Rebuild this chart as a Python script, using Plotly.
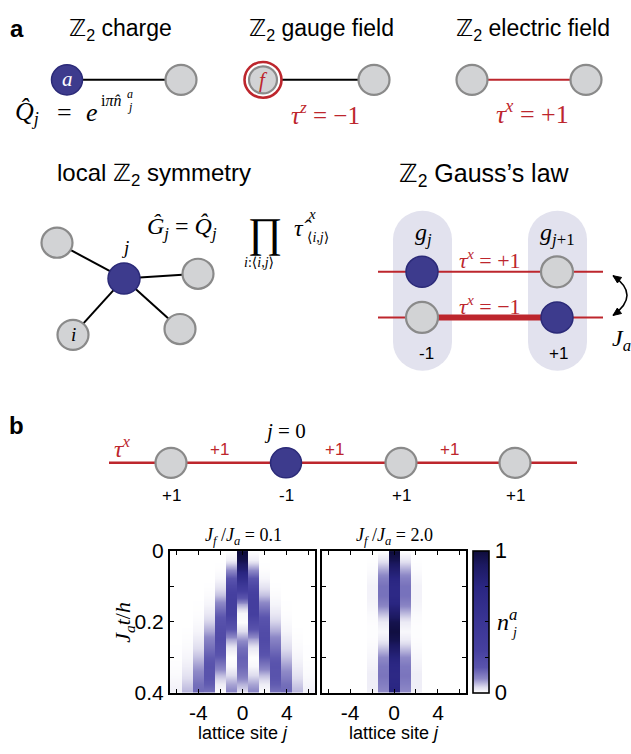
import math
import plotly.graph_objects as go

W, H = 631, 754

# ---------------- data ----------------
sites = [-6, -5, -4, -3, -2, -1, 0, 1, 2, 3, 4, 5, 6]
times = [0.0, 0.025, 0.05, 0.075, 0.1, 0.125, 0.15, 0.175, 0.2,
         0.225, 0.25, 0.275, 0.3, 0.325, 0.35, 0.375, 0.4]

# n_j^a(t) for J_f/J_a = 0.1 (rows: time, columns: sites -6..6)
density_jf_0p1 = [
    [0, 0, 0, 0, 0, 0, 1.00, 0, 0, 0, 0, 0, 0],
    [0, 0, 0, 0, 0, 0.02, 0.95, 0.02, 0, 0, 0, 0, 0],
    [0, 0, 0, 0, 0.002, 0.09, 0.82, 0.09, 0.002, 0, 0, 0, 0],
    [0, 0, 0, 0, 0.01, 0.18, 0.62, 0.18, 0.01, 0, 0, 0, 0],
    [0, 0, 0, 0.001, 0.03, 0.26, 0.41, 0.26, 0.03, 0.001, 0, 0, 0],
    [0, 0, 0, 0.005, 0.06, 0.32, 0.22, 0.32, 0.06, 0.005, 0, 0, 0],
    [0, 0, 0.001, 0.012, 0.11, 0.34, 0.08, 0.34, 0.11, 0.012, 0.001, 0, 0],
    [0, 0, 0.002, 0.026, 0.16, 0.31, 0.01, 0.31, 0.16, 0.026, 0.002, 0, 0],
    [0, 0, 0.006, 0.048, 0.20, 0.24, 0.003, 0.24, 0.20, 0.048, 0.006, 0, 0],
    [0, 0.001, 0.012, 0.077, 0.23, 0.16, 0.04, 0.16, 0.23, 0.077, 0.012, 0.001, 0],
    [0, 0.003, 0.023, 0.11, 0.24, 0.08, 0.09, 0.08, 0.24, 0.11, 0.023, 0.003, 0],
    [0.001, 0.006, 0.039, 0.14, 0.21, 0.024, 0.14, 0.024, 0.21, 0.14, 0.039, 0.006, 0.001],
    [0.001, 0.011, 0.06, 0.17, 0.17, 0.001, 0.16, 0.001, 0.17, 0.17, 0.06, 0.011, 0.001],
    [0.003, 0.02, 0.086, 0.19, 0.12, 0.009, 0.15, 0.009, 0.12, 0.19, 0.086, 0.02, 0.003],
    [0.006, 0.033, 0.11, 0.185, 0.063, 0.04, 0.12, 0.04, 0.063, 0.185, 0.11, 0.033, 0.006],
    [0.012, 0.052, 0.14, 0.167, 0.021, 0.08, 0.07, 0.08, 0.021, 0.167, 0.14, 0.052, 0.012],
    [0.018, 0.07, 0.15, 0.13, 0.001, 0.11, 0.03, 0.11, 0.001, 0.13, 0.15, 0.07, 0.018],
]

# n_j^a(t) for J_f/J_a = 2.0
density_jf_2p0 = [
    [0, 0, 0, 0, 0, 0, 1.00, 0, 0, 0, 0, 0, 0],
    [0, 0, 0, 0, 0.001, 0.03, 0.94, 0.03, 0.001, 0, 0, 0, 0],
    [0, 0, 0, 0, 0.004, 0.075, 0.84, 0.075, 0.004, 0, 0, 0, 0],
    [0, 0, 0, 0, 0.01, 0.115, 0.75, 0.115, 0.01, 0, 0, 0, 0],
    [0, 0, 0, 0, 0.015, 0.135, 0.70, 0.135, 0.015, 0, 0, 0, 0],
    [0, 0, 0, 0, 0.015, 0.135, 0.70, 0.135, 0.015, 0, 0, 0, 0],
    [0, 0, 0, 0, 0.012, 0.11, 0.76, 0.11, 0.012, 0, 0, 0, 0],
    [0, 0, 0, 0, 0.006, 0.065, 0.86, 0.065, 0.006, 0, 0, 0, 0],
    [0, 0, 0, 0, 0.003, 0.022, 0.95, 0.022, 0.003, 0, 0, 0, 0],
    [0, 0, 0, 0, 0.002, 0.008, 0.98, 0.008, 0.002, 0, 0, 0, 0],
    [0, 0, 0, 0, 0.003, 0.022, 0.95, 0.022, 0.003, 0, 0, 0, 0],
    [0, 0, 0, 0, 0.006, 0.06, 0.87, 0.06, 0.006, 0, 0, 0, 0],
    [0, 0, 0, 0, 0.01, 0.10, 0.78, 0.10, 0.01, 0, 0, 0, 0],
    [0, 0, 0, 0, 0.015, 0.125, 0.72, 0.125, 0.015, 0, 0, 0, 0],
    [0, 0, 0, 0, 0.02, 0.13, 0.70, 0.13, 0.02, 0, 0, 0, 0],
    [0, 0, 0, 0, 0.02, 0.115, 0.73, 0.115, 0.02, 0, 0, 0, 0],
    [0, 0, 0, 0, 0.015, 0.095, 0.78, 0.095, 0.015, 0, 0, 0, 0],
]

site_ticks = [-6, -4, -2, 0, 2, 4, 6]
site_ticklabels = ['', '-4', '', '0', '', '4', '']
time_ticks = [0, 0.1, 0.2, 0.3, 0.4]
time_ticklabels = ['0', '', '0.2', '', '0.4']
cbar_ticks = [0, 0.25, 0.5, 0.75, 1]
cbar_ticklabels = ['0', '', '', '', '1']

# chain in panel b
chain_charges = ['+1', '-1', '+1', '+1']
chain_filled = [False, True, False, False]
chain_links = ['+1', '+1', '+1']

# ---------------- styling ----------------
SANS = 'Liberation Sans, Arial, DejaVu Sans, sans-serif'
SERIF = 'Liberation Serif, Times New Roman, DejaVu Serif, serif'
NAVY = '#3d3b8d'
NAVY_EDGE = '#2b2a78'
GRAY = '#d2d3d5'
GRAY_EDGE = '#8a8a8a'
RED = '#bd262d'
LAV = '#e2e2ee'
CS = [[0.0, '#ffffff'], [0.04, '#dedcee'], [0.1, '#8e89c7'], [0.18, '#5a54ad'],
      [0.3, '#4640a0'], [0.5, '#3a3594'], [0.75, '#2a2682'], [0.9, '#1c1961'],
      [1.0, '#0e0c3a']]


def px(x):
    return x / W


def py(y):
    return 1 - y / H


shapes = []
annotations = []


def seg(x0, y0, x1, y1, color='black', width=2):
    shapes.append(dict(type='line', xref='paper', yref='paper',
                       x0=px(x0), y0=py(y0), x1=px(x1), y1=py(y1),
                       line=dict(color=color, width=width)))


def circ(cx, cy, r, fill, edge, lw=2):
    shapes.append(dict(type='circle', xref='paper', yref='paper',
                       x0=px(cx - r), x1=px(cx + r), y0=py(cy + r), y1=py(cy - r),
                       fillcolor=fill, line=dict(color=edge, width=lw)))


def node(cx, cy, filled, r=15.5):
    if filled:
        circ(cx, cy, r, NAVY, NAVY_EDGE, 1.5)
    else:
        circ(cx, cy, r, GRAY, GRAY_EDGE, 2.2)


def rect(x0, y0, x1, y1, fill):
    shapes.append(dict(type='rect', xref='paper', yref='paper',
                       x0=px(x0), x1=px(x1), y0=py(y1), y1=py(y0),
                       fillcolor=fill, line=dict(width=0)))


def pill(x0, y0, x1, y1, fill):
    r = (x1 - x0) / 2
    rect(x0, y0 + r, x1, y1 - r, fill)
    shapes.append(dict(type='circle', xref='paper', yref='paper',
                       x0=px(x0), x1=px(x1), y0=py(y0 + 2 * r), y1=py(y0),
                       fillcolor=fill, line=dict(width=0)))
    shapes.append(dict(type='circle', xref='paper', yref='paper',
                       x0=px(x0), x1=px(x1), y0=py(y1), y1=py(y1 - 2 * r),
                       fillcolor=fill, line=dict(width=0)))


def txt(x, y, text, size, color='black', family=SANS, xanchor='center',
        yanchor='middle', angle=0):
    annotations.append(dict(x=px(x), y=py(y), xref='paper', yref='paper',
                            text=text, showarrow=False, textangle=angle,
                            font=dict(size=size, color=color, family=family),
                            xanchor=xanchor, yanchor=yanchor))


def arrowhead(tipx, tipy, dx, dy, length=8, half=3.5, color='black'):
    n = math.hypot(dx, dy)
    ux, uy = dx / n, dy / n
    bx, by = tipx - ux * length, tipy - uy * length
    p1 = (bx - uy * half, by + ux * half)
    p2 = (bx + uy * half, by - ux * half)
    path = 'M {} {} L {} {} L {} {} Z'.format(px(tipx), py(tipy), px(p1[0]), py(p1[1]),
                                               px(p2[0]), py(p2[1]))
    shapes.append(dict(type='path', xref='paper', yref='paper', path=path,
                       fillcolor=color, line=dict(color=color, width=1)))


# ---------------- panel a : top row ----------------
txt(17, 17, '<b>a</b>', 24)
txt(120, 18, 'ℤ<sub>2</sub> charge', 23)
txt(321, 18, 'ℤ<sub>2</sub> gauge field', 23)
txt(533, 18, 'ℤ<sub>2</sub> electric field', 23)

ROW = 70
seg(67, ROW, 181, ROW, 'black', 2)
node(67, ROW, True)
node(181, ROW, False)
txt(67, ROW - 1, '<i>a</i>', 21, 'white', SERIF)

seg(263, ROW, 374, ROW, 'black', 2)
circ(263, ROW, 18.5, 'white', RED, 2.6)
node(263, ROW, False, 14)
node(374, ROW, False)
txt(263, ROW, '<i>f</i>', 21, RED, SERIF)

seg(472, ROW, 586, ROW, RED, 2)
node(472, ROW, False)
node(586, ROW, False)

LAB = 104
txt(13, LAB, '<i>Q̂</i><sub><i>j</i></sub>', 26, 'black', SERIF, xanchor='left')
txt(64, LAB, '=', 26, 'black', SERIF)
txt(92, LAB, '<i>e</i>', 26, 'black', SERIF)
txt(99, LAB - 13, 'i<i>π</i><i>n̂</i>', 16, 'black', SERIF, xanchor='left')
txt(125, LAB - 19, '<i>a</i>', 12, 'black', SERIF, xanchor='left')
txt(125, LAB - 6, '<i>j</i>', 12, 'black', SERIF, xanchor='left')
txt(325, LAB, '<i>τ</i><sup><i>z</i></sup> = −1', 25, RED, SERIF)
txt(532, LAB, '<i>τ</i><sup><i>x</i></sup> = +1', 26, RED, SERIF)

# ---------------- panel a : local symmetry ----------------
txt(154, 168, 'local ℤ<sub>2</sub> symmetry', 24)
center = (124, 275)
neighbors = [(57, 238), (198, 270), (73, 333), (180, 327)]
for (nx, ny) in neighbors:
    seg(center[0], center[1], nx, ny, 'black', 2)
for (nx, ny) in neighbors:
    node(nx, ny, False)
node(center[0], center[1], True, 16)
txt(125, 243, '<i>j</i>', 19, 'black', SERIF)
txt(73, 333, '<i>i</i>', 19, 'black', SERIF)

txt(145, 223, '<i>Ĝ</i><sub><i>j</i></sub> = <i>Q̂</i><sub><i>j</i></sub>', 24, 'black', SERIF,
    xanchor='left')
txt(265, 228, '∏', 42, 'black', SERIF)
txt(259, 258, '<i>i</i>:⟨<i>i</i>,<i>j</i>⟩', 14, 'black', SERIF)
txt(292, 223, '<i>τ̂</i>', 24, 'black', SERIF, xanchor='left')
txt(306, 208, '<i>x</i>', 15, 'black', SERIF, xanchor='left')
txt(305, 233, '⟨<i>i</i>,<i>j</i>⟩', 14, 'black', SERIF, xanchor='left')

# ---------------- panel a : Gauss's law ----------------
txt(484, 168, 'ℤ<sub>2</sub> Gauss’s law', 25)
pill(393, 205, 452, 370, LAV)
pill(528, 205, 587, 370, LAV)
UP, LO = 268, 315
seg(378, UP, 603, UP, RED, 2)
seg(378, LO, 603, LO, RED, 2)
seg(422, LO, 557, LO, RED, 6)
node(422, UP, True, 16)
node(557, UP, False, 16)
node(422, LO, False, 16)
node(557, LO, True, 16)
txt(423, 229, '<i>g</i><sub><i>j</i></sub>', 24, 'black', SERIF)
txt(557, 229, '<i>g</i><sub><i>j</i>+1</sub>', 24, 'black', SERIF)
txt(490, 255, '<i>τ</i><sup><i>x</i></sup> = +1', 22, RED, SERIF)
txt(490, 302, '<i>τ</i><sup><i>x</i></sup> = −1', 22, RED, SERIF)
txt(426, 352, '-1', 17)
txt(558, 352, '+1', 17)

# curved double arrow (J_a)
P0, C, P1 = (613, 272), (641, 292), (613, 313)
shapes.append(dict(type='path', xref='paper', yref='paper',
                   path='M {} {} Q {} {} {} {}'.format(px(P0[0]), py(P0[1]), px(C[0]), py(C[1]),
                                                         px(P1[0]), py(P1[1])),
                   line=dict(color='black', width=1.6)))
arrowhead(P0[0], P0[1], P0[0] - C[0], P0[1] - C[1])
arrowhead(P1[0], P1[1], P1[0] - C[0], P1[1] - C[1])
txt(621, 338, '<i>J</i><sub><i>a</i></sub>', 24, 'black', SERIF)

# ---------------- panel b : chain ----------------
txt(16, 426, '<b>b</b>', 24)
CH = 465
chain_x = [171, 286, 401, 515]
seg(109, CH, 577, CH, RED, 2.5)
for cx, filled in zip(chain_x, chain_filled):
    node(cx, CH, filled)
for cx, q in zip(chain_x, chain_charges):
    txt(cx, 499, q, 17)
for i, lab in enumerate(chain_links):
    txt((chain_x[i] + chain_x[i + 1]) / 2 - 9, 451, lab, 17, RED)
txt(122, 449, '<i>τ</i><sup><i>x</i></sup>', 24, RED, SERIF)
txt(285, 432, '<i>j</i> = 0', 21, 'black', SERIF)

# ---------------- panel b : heatmaps ----------------
xs = [s + d for s in sites for d in (-0.49, 0.49)]


def expand(rows):
    return [[v for v in row for _ in (0, 1)] for row in rows]


fig = go.Figure()
fig.add_trace(go.Heatmap(x=xs, y=times, z=expand(density_jf_0p1), zsmooth='best',
                         coloraxis='coloraxis', xaxis='x', yaxis='y',
                         hoverinfo='skip'))
fig.add_trace(go.Heatmap(x=xs, y=times, z=expand(density_jf_2p0), zsmooth='best',
                         coloraxis='coloraxis', xaxis='x2', yaxis='y2',
                         hoverinfo='skip'))

axis_common = dict(showline=True, linecolor='black', linewidth=2, mirror='allticks',
                   ticks='inside', ticklen=4, tickwidth=1.4, tickcolor='black',
                   showgrid=False, zeroline=False,
                   tickfont=dict(size=21, family=SANS, color='black'))
XR = [-6.55, 6.55]
YT, YB = 556, 702

fig.update_layout(
    width=W, height=H,
    margin=dict(l=0, r=0, t=0, b=0),
    paper_bgcolor='white', plot_bgcolor='white',
    showlegend=False,
    xaxis=dict(domain=[px(170), px(315)], range=XR, anchor='y',
               tickvals=site_ticks, ticktext=site_ticklabels, **axis_common),
    yaxis=dict(domain=[py(YB), py(YT)], range=[0.4, 0], anchor='x',
               tickvals=time_ticks, ticktext=time_ticklabels, **axis_common),
    xaxis2=dict(domain=[px(322), px(466)], range=XR, anchor='y2',
                tickvals=site_ticks, ticktext=site_ticklabels, **axis_common),
    yaxis2=dict(domain=[py(YB), py(YT)], range=[0.4, 0], anchor='x2',
                tickvals=time_ticks, showticklabels=False, **axis_common),
    coloraxis=dict(cmin=0, cmax=1, colorscale=CS,
                   colorbar=dict(x=px(473), xanchor='left', xpad=0, ypad=0,
                                 y=py(YB), yanchor='bottom', len=(YB - YT) / H,
                                 lenmode='fraction', thickness=16, thicknessmode='pixels',
                                 outlinewidth=1.6, outlinecolor='black',
                                 tickvals=cbar_ticks, ticktext=cbar_ticklabels,
                                 ticks='inside', ticklen=4, tickwidth=1.4,
                                 tickcolor='black',
                                 tickfont=dict(size=22, family=SANS, color='black'))),
)

txt(243, 541, '<i>J</i><sub><i>f</i></sub> /<i>J</i><sub><i>a</i></sub> = 0.1', 18, 'black', SERIF)
txt(394, 541, '<i>J</i><sub><i>f</i></sub> /<i>J</i><sub><i>a</i></sub> = 2.0', 18, 'black', SERIF)
txt(243, 744, 'lattice site <i>j</i>', 18)
txt(394, 744, 'lattice site <i>j</i>', 18)
txt(124, 630, '<i>J</i><sub><i>a</i></sub><i>t</i>/<i>h</i>', 22, 'black', SERIF, angle=-90)
txt(507, 627, '<i>n</i><sup><i>a</i></sup>', 24, 'black', SERIF)
txt(514, 640, '<i>j</i>', 14, 'black', SERIF)

fig.update_layout(shapes=shapes, annotations=annotations)
fig.write_html('out.html')
